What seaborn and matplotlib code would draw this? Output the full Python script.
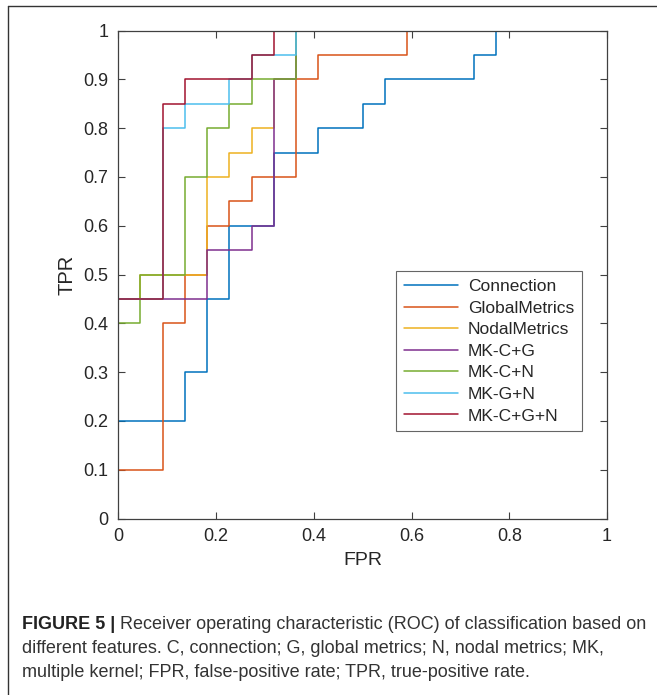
import matplotlib
matplotlib.use("Agg")
import matplotlib.pyplot as plt
from matplotlib.lines import Line2D
import seaborn as sns
import pandas as pd

# ROC step points (steps-post: horizontal to x at previous TPR, then up to TPR)
models = ["Connection", "GlobalMetrics", "NodalMetrics", "MK-C+G", "MK-C+N", "MK-G+N", "MK-C+G+N"]

fpr_connection = [0, 0, 0.136, 0.182, 0.227, 0.318, 0.409, 0.5, 0.545, 0.727, 0.773, 1]
tpr_connection = [0, 0.2, 0.3, 0.45, 0.6, 0.75, 0.8, 0.85, 0.9, 0.95, 1.0, 1.0]

fpr_global = [0, 0, 0.091, 0.136, 0.182, 0.227, 0.273, 0.364, 0.409, 0.591, 1]
tpr_global = [0, 0.1, 0.4, 0.5, 0.6, 0.65, 0.7, 0.9, 0.95, 1.0, 1.0]

fpr_nodal = [0, 0, 0.045, 0.182, 0.227, 0.273, 0.318, 0.364, 1]
tpr_nodal = [0, 0.45, 0.5, 0.7, 0.75, 0.8, 0.9, 1.0, 1.0]

fpr_cg = [0, 0, 0.182, 0.273, 0.318, 0.364, 1]
tpr_cg = [0, 0.45, 0.55, 0.6, 0.9, 1.0, 1.0]

fpr_cn = [0, 0, 0.045, 0.136, 0.182, 0.227, 0.273, 0.364, 1]
tpr_cn = [0, 0.4, 0.5, 0.7, 0.8, 0.85, 0.9, 1.0, 1.0]

fpr_gn = [0, 0, 0.091, 0.136, 0.227, 0.273, 0.364, 1]
tpr_gn = [0, 0.45, 0.8, 0.85, 0.9, 0.95, 1.0, 1.0]

fpr_cgn = [0, 0, 0.091, 0.136, 0.273, 0.318, 1]
tpr_cgn = [0.05, 0.45, 0.85, 0.9, 0.95, 1.0, 1.0]

x_ticks = [0, 0.2, 0.4, 0.6, 0.8, 1]
x_tick_labels = ["0", "0.2", "0.4", "0.6", "0.8", "1"]
y_ticks = [0, 0.1, 0.2, 0.3, 0.4, 0.5, 0.6, 0.7, 0.8, 0.9, 1]
y_tick_labels = ["0", "0.1", "0.2", "0.3", "0.4", "0.5", "0.6", "0.7", "0.8", "0.9", "1"]

colors = ["#0072BD", "#D95319", "#EDB120", "#7E2F8E", "#77AC30", "#4DBEEE", "#A2142F"]

series = [(fpr_connection, tpr_connection), (fpr_global, tpr_global), (fpr_nodal, tpr_nodal),
          (fpr_cg, tpr_cg), (fpr_cn, tpr_cn), (fpr_gn, tpr_gn), (fpr_cgn, tpr_cgn)]
rows = []
for name, (fx, ty) in zip(models, series):
    for i, (a, b) in enumerate(zip(fx, ty)):
        rows.append({"FPR": a, "TPR": b, "Model": name, "order": i})
df = pd.DataFrame(rows)

sns.set_theme(style="white")
plt.rcParams["font.family"] = ["Liberation Sans", "DejaVu Sans"]

fig = plt.figure(figsize=(6.57, 6.95), dpi=100)
ax = fig.add_axes([118.3 / 657, 1 - 518.5 / 695, 488.7 / 657, 488.0 / 695])

sns.lineplot(data=df, x="FPR", y="TPR", hue="Model", hue_order=models,
             palette=colors, sort=False, estimator=None, drawstyle="steps-post",
             linewidth=1.1, ax=ax, legend=False)

ax.set_xlim(0, 1)
ax.set_ylim(0, 1)
ax.set_xticks(x_ticks)
ax.set_xticklabels(x_tick_labels)
ax.set_yticks(y_ticks)
ax.set_yticklabels(y_tick_labels)
ax.tick_params(direction="in", length=5, width=0.8, colors="#404040",
               labelcolor="#262626", labelsize=13, top=True, right=True,
               bottom=True, left=True, pad=7)
for s in ax.spines.values():
    s.set_color("#404040")
    s.set_linewidth(0.9)
ax.set_xlabel("FPR", fontsize=14, color="#262626", labelpad=5)
ax.set_ylabel("TPR", fontsize=14.5, color="#262626", labelpad=5)

handles = [Line2D([0], [0], color=c, lw=1.1) for c in colors]
leg = ax.legend(handles, models, loc="upper left", bbox_to_anchor=(0.568, 0.507),
                fontsize=12.5, frameon=True, fancybox=False, handlelength=3.1,
                handletextpad=0.6, labelspacing=0.37, borderpad=0.45, borderaxespad=0)
leg.get_frame().set_edgecolor("#404040")
leg.get_frame().set_linewidth(0.8)
for t in leg.get_texts():
    t.set_color("#262626")

# outer frame (top & left lines)
fig.add_artist(Line2D([8 / 657, 1], [1 - 6 / 695, 1 - 6 / 695], transform=fig.transFigure,
                      color="#333333", lw=1.0))
fig.add_artist(Line2D([8 / 657, 8 / 657], [0, 1 - 6 / 695], transform=fig.transFigure,
                      color="#333333", lw=1.0))

# caption
fig.canvas.draw()
r = fig.canvas.get_renderer()
cap_fs = 13.0
x0 = 22 / 657
y1 = 1 - 629 / 695
tb = fig.text(x0, y1, "FIGURE 5 | ", fontsize=cap_fs, fontweight="bold", color="#222222",
              va="baseline", ha="left")
bb = tb.get_window_extent(r)
fig.text(bb.x1 / fig.bbox.width, y1,
         "Receiver operating characteristic (ROC) of classification based on",
         fontsize=cap_fs, color="#333333", va="baseline", ha="left")
fig.text(x0, 1 - 653 / 695,
         "different features. C, connection; G, global metrics; N, nodal metrics; MK,",
         fontsize=cap_fs, color="#333333", va="baseline", ha="left")
fig.text(x0, 1 - 677 / 695,
         "multiple kernel; FPR, false-positive rate; TPR, true-positive rate.",
         fontsize=cap_fs, color="#333333", va="baseline", ha="left")

fig.savefig("out.png", dpi=100)
